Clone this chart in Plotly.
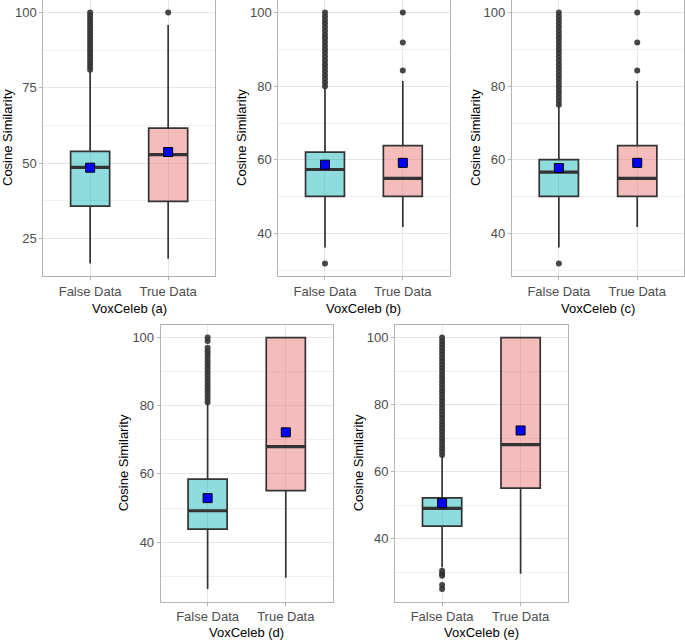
import plotly.graph_objects as go

W, H = 685, 641

categories = ["False Data", "True Data"]
panel_titles = ["VoxCeleb (a)", "VoxCeleb (b)", "VoxCeleb (c)", "VoxCeleb (d)", "VoxCeleb (e)"]
y_title = "Cosine Similarity"

# ---- panel (a) ----  [False, True]
a_q1 = [35.7, 37.3]
a_median = [48.6, 52.8]
a_q3 = [53.9, 61.6]
a_lower = [16.7, 18.3]
a_upper = [80.7, 95.9]
a_mean = [48.5, 53.7]
a_out_false = [81, 82, 83, 84, 85, 86, 87, 88, 89, 90, 91, 92, 93, 94, 95, 96, 97, 98, 99, 100]
a_out_true = [100]

# ---- panel (b) ----
b_q1 = [50.1, 50.1]
b_median = [57.4, 55.0]
b_q3 = [62.1, 63.9]
b_lower = [36.2, 41.8]
b_upper = [79.7, 81.4]
b_mean = [58.7, 59.2]
b_out_false = [31.9, 80, 81, 82, 83, 84, 85, 86, 87, 88, 89, 90, 91, 92, 93, 94, 95, 96, 97, 98, 99, 100]
b_out_true = [84.3, 91.9, 100]

# ---- panel (c) ----
c_q1 = [50.1, 50.1]
c_median = [56.7, 55.0]
c_q3 = [60.1, 63.9]
c_lower = [36.2, 41.8]
c_upper = [74.9, 81.4]
c_mean = [57.8, 59.2]
c_out_false = [31.9, 75, 76, 77, 78, 79, 80, 81, 82, 83, 84, 85, 86, 87, 88, 89, 90, 91, 92, 93,
               94, 95, 96, 97, 98, 99, 100]
c_out_true = [84.3, 91.9, 100]

# ---- panel (d) ----
d_q1 = [43.8, 55.1]
d_median = [49.2, 68.0]
d_q3 = [58.5, 100.0]
d_lower = [26.2, 29.5]
d_upper = [80.9, 100.0]
d_mean = [52.9, 72.2]
d_out_false = [81, 82, 83, 84, 85, 86, 87, 88, 89, 90, 91, 92, 93, 94, 95, 96, 97, 99, 100]
d_out_true = []

# ---- panel (e) ----
e_q1 = [43.8, 55.1]
e_median = [49.1, 68.1]
e_q3 = [52.2, 100.0]
e_lower = [31.5, 29.6]
e_upper = [64.9, 100.0]
e_mean = [50.6, 72.3]
e_out_false = [25.0, 26.2, 29.0, 29.6, 30.5, 65, 66, 67, 68, 69, 70, 71, 72, 73, 74, 75, 76, 77,
               78, 79, 80, 81, 82, 83, 84, 85, 86, 87, 88, 89, 90, 91, 92, 93, 94, 95, 96, 97,
               98, 99, 100]
e_out_true = []

y_ticks_a = [25, 50, 75, 100]
y_minor_a = [37.5, 62.5, 87.5]
y_ticks_rest = [40, 60, 80, 100]
y_minor_rest = [30, 50, 70, 90]

panels = [
    dict(q1=a_q1, med=a_median, q3=a_q3, lo=a_lower, hi=a_upper, mean=a_mean,
         out=[a_out_false, a_out_true], ticks=y_ticks_a, minor=y_minor_a),
    dict(q1=b_q1, med=b_median, q3=b_q3, lo=b_lower, hi=b_upper, mean=b_mean,
         out=[b_out_false, b_out_true], ticks=y_ticks_rest, minor=y_minor_rest),
    dict(q1=c_q1, med=c_median, q3=c_q3, lo=c_lower, hi=c_upper, mean=c_mean,
         out=[c_out_false, c_out_true], ticks=y_ticks_rest, minor=y_minor_rest),
    dict(q1=d_q1, med=d_median, q3=d_q3, lo=d_lower, hi=d_upper, mean=d_mean,
         out=[d_out_false, d_out_true], ticks=y_ticks_rest, minor=y_minor_rest),
    dict(q1=e_q1, med=e_median, q3=e_q3, lo=e_lower, hi=e_upper, mean=e_mean,
         out=[e_out_false, e_out_true], ticks=y_ticks_rest, minor=y_minor_rest),
]

# plot-area boxes in pixels: (left, right, top, bottom)
px_boxes = [
    (43.3, 215.0, 0.0, 276.0),
    (278.3, 449.5, 0.0, 276.0),
    (511.8, 684.3, 0.0, 276.0),
    (160.7, 332.7, 325.0, 601.7),
    (395.0, 567.7, 325.0, 601.7),
]
ytitle_x = [7, 241, 475, 123, 358]
xtitle_y = [308, 308, 308, 632, 632]

fills = ["rgba(4,177,182,0.45)", "rgba(231,108,104,0.45)"]
dark = "#333333"
font_family = "Liberation Sans, Arial, sans-serif"
BW = 0.5

fig = go.Figure()
annotations = []
layout_axes = {}

for k, (p, bx) in enumerate(zip(panels, px_boxes)):
    sfx = "" if k == 0 else str(k + 1)
    xa, ya = "x" + sfx, "y" + sfx
    for i in range(2):
        pos = i + 1
        fig.add_trace(go.Box(
            x=[pos], q1=[p["q1"][i]], median=[p["med"][i]], q3=[p["q3"][i]],
            lowerfence=[p["lo"][i]], upperfence=[p["hi"][i]],
            width=BW, whiskerwidth=0, boxpoints=False,
            fillcolor=fills[i], line=dict(color=dark, width=1.7),
            xaxis=xa, yaxis=ya, showlegend=False, hoverinfo="skip"))
        # thick median line
        fig.add_trace(go.Scatter(
            x=[pos - BW / 2, pos + BW / 2], y=[p["med"][i], p["med"][i]],
            mode="lines", line=dict(color=dark, width=3.2),
            xaxis=xa, yaxis=ya, showlegend=False, hoverinfo="skip"))
        # outliers
        if p["out"][i]:
            fig.add_trace(go.Scatter(
                x=[pos] * len(p["out"][i]), y=p["out"][i], mode="markers",
                marker=dict(color="rgba(51,51,51,0.9)", size=6),
                xaxis=xa, yaxis=ya, showlegend=False, hoverinfo="skip"))
        # mean
        fig.add_trace(go.Scatter(
            x=[pos], y=[p["mean"][i]], mode="markers",
            marker=dict(symbol="square", color="#0000FF", size=9,
                        line=dict(color="black", width=1)),
            xaxis=xa, yaxis=ya, showlegend=False, hoverinfo="skip"))

    allv = p["lo"] + p["hi"] + p["out"][0] + p["out"][1]
    vmin, vmax = min(allv), max(allv)
    pad = 0.05 * (vmax - vmin)

    l, r, t, b = bx
    xdom = [l / W, r / W]
    ydom = [1 - b / H, 1 - t / H]
    layout_axes["xaxis" + sfx] = dict(
        domain=xdom, anchor=ya, range=[0.4, 2.6], tickvals=[1, 2], ticktext=categories,
        ticks="outside", ticklen=3, tickcolor="#B3B3B3", tickwidth=1,
        showgrid=True, gridcolor="#E6E6E6", gridwidth=1, zeroline=False,
        showline=True, mirror=True, linecolor="#B3B3B3", linewidth=1,
        tickfont=dict(size=13, color="#4D4D4D", family=font_family))
    layout_axes["yaxis" + sfx] = dict(
        domain=ydom, anchor=xa, range=[vmin - pad, vmax + pad], tickvals=p["ticks"],
        ticks="outside", ticklen=3, tickcolor="#B3B3B3", tickwidth=1,
        showgrid=True, gridcolor="#E6E6E6", gridwidth=1, zeroline=False,
        showline=True, mirror=True, linecolor="#B3B3B3", linewidth=1,
        minor=dict(tickvals=p["minor"], showgrid=True, gridcolor="#F0F0F0", gridwidth=1, ticks=""),
        tickfont=dict(size=13, color="#4D4D4D", family=font_family))

    annotations.append(dict(
        text=panel_titles[k], xref="paper", yref="paper",
        x=(l + r) / 2 / W, y=1 - xtitle_y[k] / H, xanchor="center", yanchor="middle",
        showarrow=False, font=dict(size=13, color="black", family=font_family)))
    annotations.append(dict(
        text=y_title, xref="paper", yref="paper", textangle=-90,
        x=ytitle_x[k] / W, y=1 - (t + b) / 2 / H, xanchor="center", yanchor="middle",
        showarrow=False, font=dict(size=13, color="black", family=font_family)))

fig.update_layout(
    width=W, height=H, margin=dict(l=0, r=0, t=0, b=0),
    paper_bgcolor="white", plot_bgcolor="white",
    font=dict(family=font_family), annotations=annotations, **layout_axes)

fig.write_html("out.html", config={"displayModeBar": False},
               post_script="document.body.style.margin='0';document.body.style.overflow='hidden';")
